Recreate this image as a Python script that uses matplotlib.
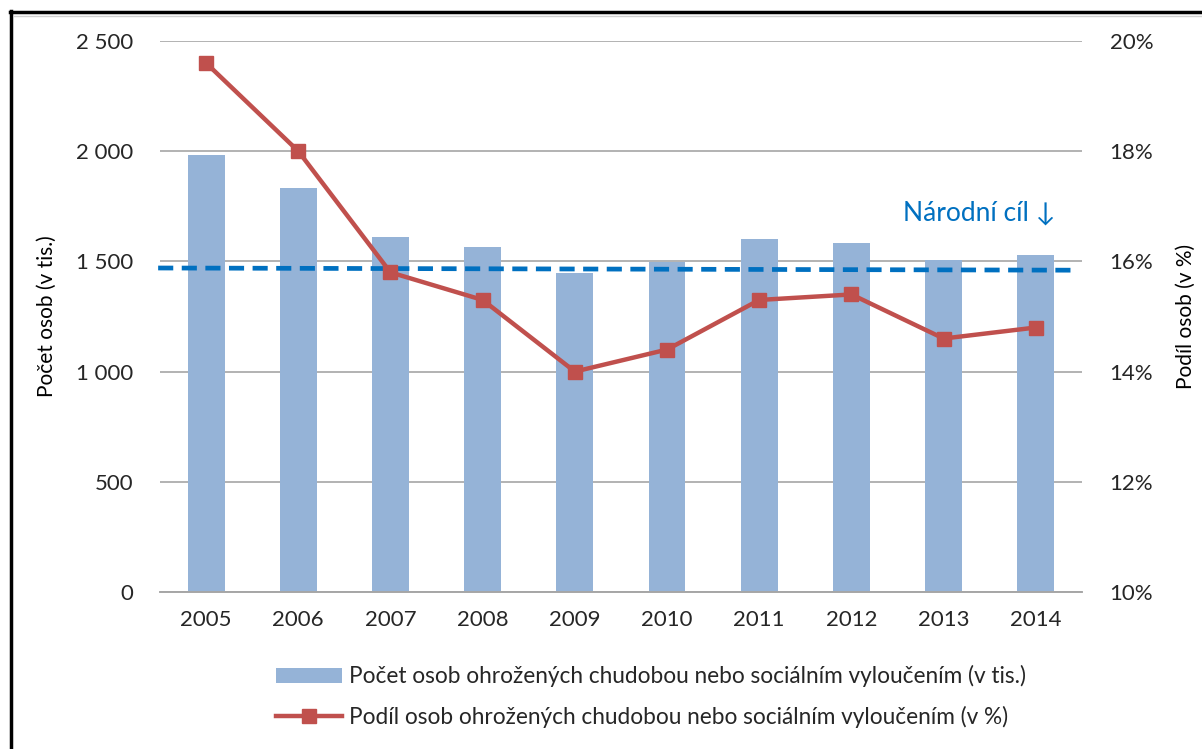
import matplotlib
matplotlib.use("Agg")
import matplotlib.pyplot as plt
from matplotlib.lines import Line2D
from matplotlib.patches import Patch
from matplotlib.ticker import FuncFormatter

plt.rcParams['font.family'] = ['Lato', 'DejaVu Sans']

# data
years = ['2005', '2006', '2007', '2008', '2009', '2010', '2011', '2012', '2013', '2014']
pocet = [1983, 1833, 1611, 1566, 1447, 1497, 1602, 1583, 1506, 1529]   # v tis.
podil = [19.6, 18.0, 15.8, 15.3, 14.0, 14.4, 15.3, 15.4, 14.6, 14.8]  # v %
cil = [1470, 1460]  # národní cíl, start / end

bar_color = '#95B3D7'
line_color = '#C0504D'
target_color = '#0070C0'
text_color = '#262626'
grid_color = '#A6A6A6'

fig = plt.figure(figsize=(12.02, 7.49), dpi=100)
ax = fig.add_axes([0.1331, 0.2096, 0.7670, 0.7357])
ax2 = ax.twinx()

x = list(range(len(years)))
ax.bar(x, pocet, width=0.4, color=bar_color, zorder=2)
ax.plot([-0.52, len(years) - 0.55], cil, color=target_color, lw=3.4,
        dashes=(3.2, 1.8), zorder=3, clip_on=False)

ax2.plot(x, podil, color=line_color, lw=3.2, marker='s', markersize=10, zorder=4)

ax.set_xlim(-0.5, len(years) - 0.5)
ax.set_ylim(0, 2500)
ax.set_yticks(range(0, 2501, 500))
ax.yaxis.set_major_formatter(FuncFormatter(lambda v, p: f'{int(v):,}'.replace(',', ' ')))
ax.set_xticks(x)
ax.set_xticklabels(years)
ax2.set_ylim(10, 20)
ax2.set_yticks(range(10, 21, 2))
ax2.yaxis.set_major_formatter(FuncFormatter(lambda v, p: f'{int(v)}%'))

ax.grid(axis='y', color=grid_color, lw=1.2, zorder=0)
ax.set_axisbelow(True)
for a in (ax, ax2):
    for s in ('top', 'left', 'right'):
        a.spines[s].set_visible(False)
    a.spines['bottom'].set_color(grid_color)
    a.spines['bottom'].set_linewidth(1.2)
    a.tick_params(length=0, labelsize=16, colors=text_color)
ax.tick_params(axis='y', pad=19)
ax.tick_params(axis='x', pad=13)
ax2.tick_params(axis='y', pad=20)

ax.set_ylabel('Počet osob (v tis.)', fontsize=15, color='black', labelpad=14)
ax2.set_ylabel('Podíl osob (v %)', fontsize=15, color='black', labelpad=16)

ax.text(0.971, 0.688, 'Národní cíl ↓', transform=ax.transAxes, ha='right',
        va='center', fontsize=19, color=target_color)

handles = [Patch(facecolor=bar_color),
           Line2D([0], [0], color=line_color, lw=3.2, marker='s', markersize=10)]
labels = ['Počet osob ohrožených chudobou nebo sociálním vyloučením (v tis.)',
          'Podíl osob ohrožených chudobou nebo sociálním vyloučením (v %)']
fig.legend(handles, labels, loc='upper left', bbox_to_anchor=(0.213, 0.139),
           frameon=False, fontsize=16.3, handlelength=2.9, labelspacing=0.82,
           handletextpad=0.3, labelcolor=text_color)

# chart frame (left and top edges visible in the reference)
fig.add_artist(Line2D([0.0095, 0.0095], [0, 0.985], color='black', lw=2.5,
                      transform=fig.transFigure))
fig.add_artist(Line2D([0.0085, 1.0], [0.984, 0.984], color='black', lw=2.5,
                      transform=fig.transFigure))
fig.add_artist(Line2D([0.012, 1.0], [0.978, 0.978], color='#D0D0D0', lw=1,
                      transform=fig.transFigure))

fig.savefig('out.png', dpi=100)
